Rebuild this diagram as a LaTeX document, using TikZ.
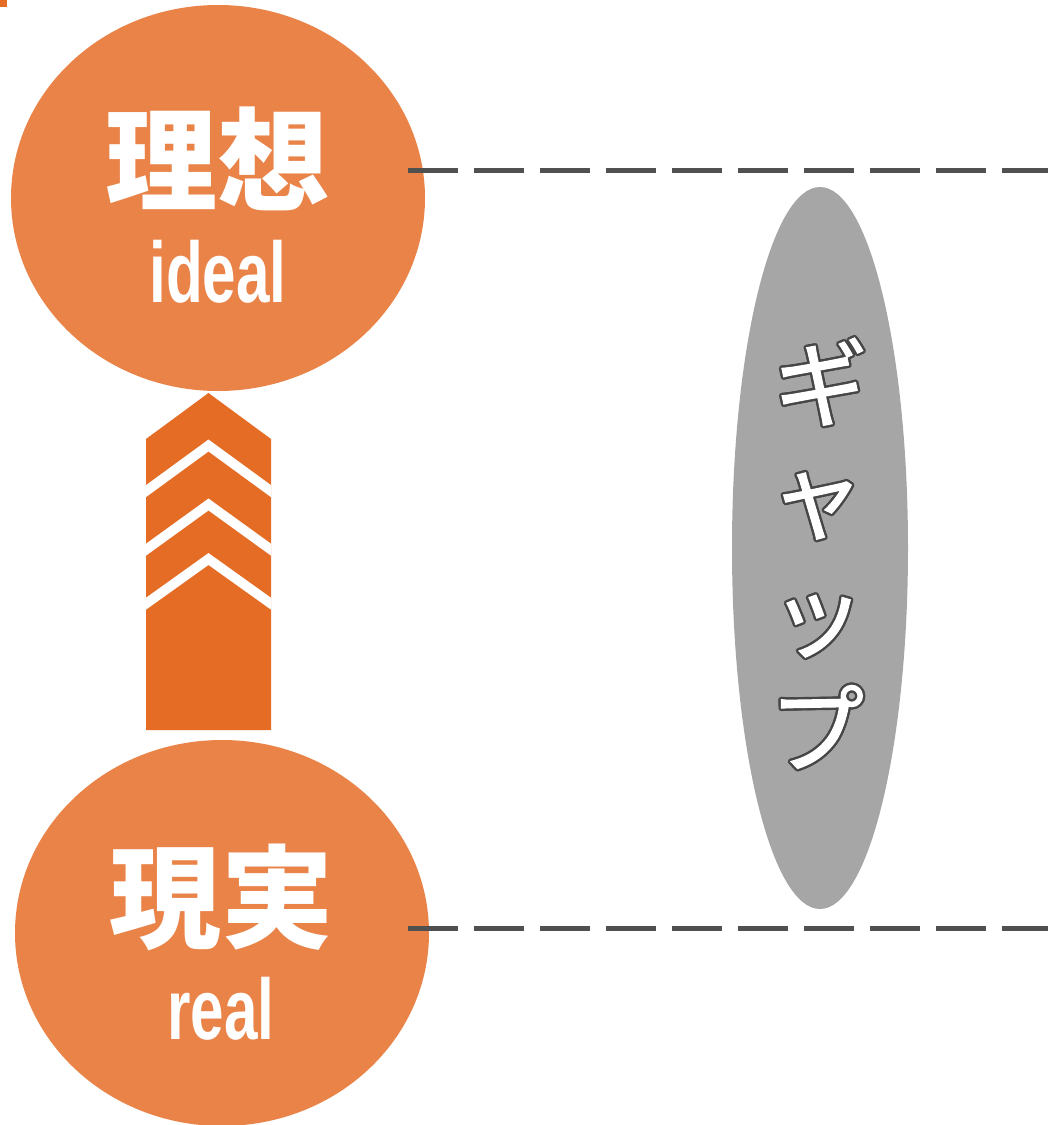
\documentclass[tikz,border=0pt]{standalone}
\usepackage{fontspec}
\usepackage{graphicx}
\usetikzlibrary{shapes.geometric,calc}
\newfontfamily\jp{Noto Sans CJK JP}
\newfontfamily\jpk[FakeBold=1.2]{Noto Sans CJK JP}
\newfontfamily\lat{Liberation Sans}
\definecolor{ellc}{RGB}{233,131,72}
\definecolor{arrc}{RGB}{228,108,36}
\definecolor{gapc}{RGB}{166,166,166}
\definecolor{dashc}{RGB}{80,80,80}
\definecolor{outc}{RGB}{70,70,70}
\tikzset{
  bigell/.style={ellipse, fill=ellc, minimum width=414, minimum height=386, inner sep=0},
  jptxt/.style={text=white, inner sep=0, font=\jp\bfseries\fontsize{112}{112}\selectfont},
  lattxt/.style={text=white, inner sep=0, font=\lat\bfseries\fontsize{86}{86}\selectfont},
  kana/.style={inner sep=0, rotate=1, font=\jpk\fontsize{95}{95}\selectfont},
  gapline/.style={draw=dashc, line width=5, dash pattern=on 50 off 16},
}
\newcommand{\gapchar}[4]{%
  \foreach \a in {0,30,...,330} {\node[kana, text=outc] at ($(#2,#3)+(\a:2.4)$) {#4};}
  \node[kana, text=white] (#1) at (#2,#3) {#4};
}
\begin{document}
\begin{tikzpicture}[x=1pt,y=-1pt]
\useasboundingbox (0,0) rectangle (1048,1125);
\clip (0,0) rectangle (1048,1125);
\fill[arrc] (0,0) rectangle (7,7);
% gap ellipse
\node[ellipse, fill=gapc, minimum width=176, minimum height=722, inner sep=0] (gap) at (820,548) {};
% ideal / real ellipses
\node[bigell] (ideal) at (218,198) {};
\node[bigell] (real) at (222,933) {};
\node[jptxt] (idealjp) at (217,159) {理想};
\node[lattxt] (idealen) at (218,272) {\scalebox{0.70}[1]{ideal}};
\node[jptxt] (realjp) at (221,897) {現実};
\node[lattxt] (realen) at (221,1009) {\scalebox{0.70}[1]{real}};
% dashed lines
\coordinate (t1) at (408,170);
\coordinate (t2) at (1048,170);
\coordinate (b1) at (408,928);
\coordinate (b2) at (1048,928);
\draw[gapline] (t1) -- (t2);
\draw[gapline] (b1) -- (b2);
% arrow
\begin{scope}
\path[fill=arrc] (146,730) -- (146,439) -- (208.5,393) -- (271,439) -- (271,730) -- cycle;
\clip (146,730) -- (146,439) -- (208.5,393) -- (271,439) -- (271,730) -- cycle;
\draw[white, line width=9.7] (140,495.5) -- (208.5,445.5) -- (277,495.5);
\draw[white, line width=9.7] (140,554) -- (208.5,504.5) -- (277,554);
\draw[white, line width=9.7] (140,608) -- (208.5,559) -- (277,608);
\end{scope}
% katakana
\gapchar{k1}{821}{382}{ギ}
\gapchar{k2}{817}{506}{ャ}
\gapchar{k3}{818}{626}{ッ}
\gapchar{k4}{817}{727}{プ}
\end{tikzpicture}
\end{document}
